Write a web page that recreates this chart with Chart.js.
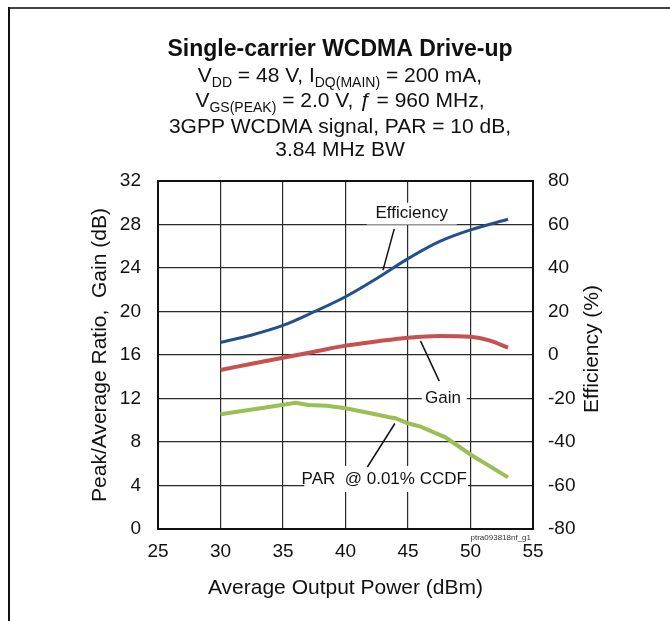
<!DOCTYPE html>
<html>
<head>
<meta charset="utf-8">
<script src="https://cdn.jsdelivr.net/npm/chart.js@4.4.1/dist/chart.umd.min.js"></script>
<style>
body { margin: 0; background: #fff; }
canvas { display: block; }
</style>
</head>
<body>
<canvas id="driveChart" width="670" height="621"></canvas>
<script>
// values
var effPower = [30, 32.5, 35, 37.5, 40, 42.5, 45, 47.5, 50, 53];
var efficiency = [5.8, 9.2, 13.6, 19.9, 26.8, 35.2, 44.3, 52.1, 57.5, 62.4];

var gainPower = [30, 32.5, 35, 37.5, 40, 42.5, 45, 47.5, 50, 51.5, 53];
var gain = [14.62, 15.2, 15.75, 16.3, 16.86, 17.25, 17.59, 17.75, 17.68, 17.35, 16.67];

var parPower = [30, 32, 34, 36, 37, 38.5, 40, 42, 43.5, 44, 45, 46, 48, 50, 53];
var par = [10.55, 10.9, 11.25, 11.61, 11.4, 11.34, 11.1, 10.64, 10.27, 10.18, 9.72, 9.41, 8.43, 6.85, 4.75];

var xTicks = [25, 30, 35, 40, 45, 50, 55];
var leftTicks = [0, 4, 8, 12, 16, 20, 24, 28, 32];
var rightTicks = [-80, -60, -40, -20, 0, 20, 40, 60, 80];

function pts(xs, ys) {
    var out = [];
    for (var i = 0; i < xs.length; i++) out.push({x: xs[i], y: ys[i]});
    return out;
}

var FONT = "'Liberation Sans', Arial, sans-serif";

// title with subscripts
function drawRuns(ctx, runs, cx, y) {
    var total = 0;
    runs.forEach(function(r) { ctx.font = r.f; total += ctx.measureText(r.t).width; });
    var x = cx - total / 2;
    runs.forEach(function(r) {
        ctx.font = r.f;
        ctx.fillText(r.t, x, y + (r.dy || 0));
        x += ctx.measureText(r.t).width;
    });
}

var decor = {
    id: 'decor',
    beforeDatasetsDraw: function(chart) {
        var ctx = chart.ctx, a = chart.chartArea;
        var sx = chart.scales.x, sy = chart.scales.y;
        ctx.save();
        // white boxes behind the callout labels
        ctx.fillStyle = '#fff';
        var boxes = [[41.7, 30.0, 48.9, 28.0], [46.1, 13.0, 49.7, 11.0], [36.7, 5.8, 49.8, 3.4]];
        boxes.forEach(function(b) {
            var x1 = sx.getPixelForValue(b[0]), y1 = sy.getPixelForValue(b[1]);
            var x2 = sx.getPixelForValue(b[2]), y2 = sy.getPixelForValue(b[3]);
            ctx.fillRect(x1, y1, x2 - x1, y2 - y1);
        });
        // plot frame
        ctx.strokeStyle = '#111';
        ctx.lineWidth = 2;
        ctx.strokeRect(a.left, a.top, a.right - a.left, a.bottom - a.top);
        ctx.restore();
    },
    afterDatasetsDraw: function(chart) {
        var ctx = chart.ctx, a = chart.chartArea;
        var sx = chart.scales.x, sy = chart.scales.y;
        ctx.save();
        ctx.fillStyle = '#111';
        ctx.strokeStyle = '#111';
        ctx.lineWidth = 1.5;
        ctx.textAlign = 'center';
        ctx.textBaseline = 'middle';
        ctx.font = '17px ' + FONT;
        var notes = [
            {t: 'Efficiency', x: 45.3, y: 29.0, l: [43.9, 27.6, 43.0, 23.8]},
            {t: 'Gain', x: 47.8, y: 12.05, l: [46.0, 17.3, 47.5, 13.6]},
            {t: 'PAR  @ 0.01% CCDF', x: 43.1, y: 4.6, l: [43.95, 9.7, 41.75, 5.7]}
        ];
        notes.forEach(function(n) {
            ctx.fillText(n.t, sx.getPixelForValue(n.x), sy.getPixelForValue(n.y));
            ctx.beginPath();
            ctx.moveTo(sx.getPixelForValue(n.l[0]), sy.getPixelForValue(n.l[1]));
            ctx.lineTo(sx.getPixelForValue(n.l[2]), sy.getPixelForValue(n.l[3]));
            ctx.stroke();
        });

        // figure id
        ctx.font = '8px ' + FONT;
        ctx.fillStyle = '#333';
        ctx.textAlign = 'right';
        ctx.textBaseline = 'alphabetic';
        ctx.fillText('ptra093818nf_g1', a.right - 2, a.bottom + 11);

        // right axis title, reading bottom to top
        ctx.save();
        ctx.translate(592, (a.top + a.bottom) / 2 - 6);
        ctx.rotate(-Math.PI / 2);
        ctx.textAlign = 'center';
        ctx.textBaseline = 'middle';
        ctx.fillStyle = '#111';
        ctx.font = '21px ' + FONT;
        ctx.fillText('Efficiency (%)', 0, 0);
        ctx.restore();

        // title block
        ctx.fillStyle = '#111';
        ctx.textAlign = 'left';
        ctx.textBaseline = 'alphabetic';
        var cx = 340;
        var big = '21px ' + FONT, sub = '14px ' + FONT;
        drawRuns(ctx, [{t: 'Single-carrier WCDMA Drive-up', f: 'bold 23px ' + FONT}], cx, 56);
        drawRuns(ctx, [
            {t: 'V', f: big}, {t: 'DD', f: sub, dy: 5},
            {t: ' = 48 V, I', f: big}, {t: 'DQ(MAIN)', f: sub, dy: 5},
            {t: ' = 200 mA,', f: big}
        ], cx, 82);
        drawRuns(ctx, [
            {t: 'V', f: big}, {t: 'GS(PEAK)', f: sub, dy: 5},
            {t: ' = 2.0 V, ', f: big}, {t: '\u0192', f: 'italic 21px ' + FONT},
            {t: ' = 960 MHz,', f: big}
        ], cx, 107);
        drawRuns(ctx, [{t: '3GPP WCDMA signal, PAR = 10 dB,', f: big}], cx, 133);
        drawRuns(ctx, [{t: '3.84 MHz BW', f: big}], cx, 156);

        // outer frame (top and left edges)
        ctx.fillStyle = '#444';
        ctx.fillRect(8, 7, 662, 2);
        ctx.fillStyle = '#111';
        ctx.fillRect(8, 7, 2, 614);
        ctx.restore();
    }
};

var ctx = document.getElementById('driveChart').getContext('2d');
var chart = new Chart(ctx, {
    type: 'line',
    data: {
        datasets: [
            {
                label: 'Efficiency',
                data: pts(effPower, efficiency),
                yAxisID: 'y1',
                borderColor: '#234F8B',
                borderWidth: 3,
                pointRadius: 0,
                cubicInterpolationMode: 'monotone'
            },
            {
                label: 'Gain',
                data: pts(gainPower, gain),
                yAxisID: 'y',
                borderColor: '#C55150',
                borderWidth: 4,
                pointRadius: 0,
                cubicInterpolationMode: 'monotone'
            },
            {
                label: 'PAR @ 0.01% CCDF',
                data: pts(parPower, par),
                yAxisID: 'y',
                borderColor: '#9BBF55',
                borderWidth: 4,
                pointRadius: 0,
                tension: 0
            }
        ]
    },
    options: {
        responsive: false,
        animation: false,
        layout: { padding: { top: 181, left: 0, right: 0, bottom: 0 } },
        plugins: {
            legend: { display: false },
            tooltip: { enabled: false }
        },
        scales: {
            x: {
                type: 'linear',
                min: 25, max: 55,
                afterBuildTicks: function(s) { s.ticks = xTicks.map(function(v) { return {value: v}; }); },
                afterFit: function(s) { s.height = 92; },
                border: { display: false },
                grid: { color: '#2a2a2a', lineWidth: 1.2, drawTicks: false },
                ticks: { color: '#111', font: { family: FONT, size: 19 }, padding: 11 },
                title: {
                    display: true,
                    text: 'Average Output Power (dBm)',
                    color: '#111',
                    font: { family: FONT, size: 21 },
                    padding: { top: 0, bottom: 20 }
                }
            },
            y: {
                position: 'left',
                min: 0, max: 32,
                afterBuildTicks: function(s) { s.ticks = leftTicks.map(function(v) { return {value: v}; }); },
                afterFit: function(s) { s.width = 158; },
                border: { display: false },
                grid: { color: '#2a2a2a', lineWidth: 1.2, drawTicks: false },
                ticks: { color: '#111', font: { family: FONT, size: 19 }, padding: 17 },
                title: {
                    display: true,
                    text: 'Peak/Average Ratio,  Gain (dB)',
                    color: '#111',
                    font: { family: FONT, size: 21 },
                    padding: { top: 88, bottom: 0 }
                }
            },
            y1: {
                position: 'right',
                min: -80, max: 80,
                afterBuildTicks: function(s) { s.ticks = rightTicks.map(function(v) { return {value: v}; }); },
                afterFit: function(s) { s.width = 137; },
                border: { display: false },
                grid: { display: false, drawTicks: false },
                ticks: { color: '#111', font: { family: FONT, size: 19 }, padding: 15 }
            }
        }
    },
    plugins: [decor]
});
</script>
</body>
</html>
